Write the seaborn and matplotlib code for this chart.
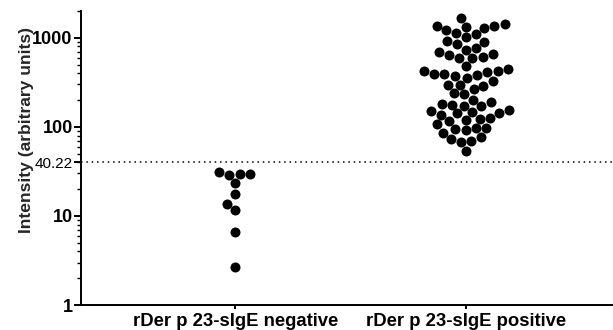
import matplotlib.pyplot as plt
import numpy as np
import pandas as pd
import seaborn as sns
from matplotlib.ticker import LogLocator, NullFormatter

groups = ["rDer p 23-sIgE negative", "rDer p 23-sIgE positive"]
negative = [29.5, 28.8, 23.4, 29.8, 31.1, 17.6, 13.6, 11.6, 6.6, 2.7]
positive = [1353, 1328, 1220, 1101, 1010, 1138, 1275, 1364, 1414, 1676,
            895, 760, 697, 640, 651, 728, 587, 603, 857, 925,
            590, 485, 426, 423, 442, 391, 388, 356, 294, 289,
            296, 329, 372, 386, 412, 235, 200, 188, 238, 266,
            179, 173, 154, 148, 142, 125, 121, 122, 136, 145,
            150, 171, 178, 116, 107, 96, 94, 86, 92, 98,
            76, 70, 68, 73, 54]
cutoff = 40.22
ytick_vals = [1, 10, 100, 1000]

df = pd.DataFrame({
    "group": [groups[0]] * len(negative) + [groups[1]] * len(positive),
    "intensity": negative + positive,
})

sns.set_style("ticks")
plt.rcParams['font.family'] = ['Liberation Sans', 'DejaVu Sans']

fig = plt.figure(figsize=(6.13, 3.30), dpi=100)
ax = fig.add_axes([81 / 613, 25 / 330, 1 - 81 / 613, 294 / 330])
ax.set_yscale("log")
sns.swarmplot(data=df, x="group", y="intensity", order=groups,
              color="black", size=7.2, ax=ax)

ax.axhline(cutoff, color="black", linestyle=(0, (1, 2.5)), linewidth=1.1)
ax.set_ylim(1, 2000)
ax.set_xlim(-0.67, 1.64)

for s in ["top", "right"]:
    ax.spines[s].set_visible(False)
for s in ["left", "bottom"]:
    ax.spines[s].set_linewidth(1.4)
    ax.spines[s].set_color("black")

ax.set_yticks(ytick_vals + [cutoff])
ax.set_yticklabels([str(v) for v in ytick_vals] + ["40.22"])
ax.yaxis.set_minor_locator(LogLocator(base=10, subs=np.arange(2, 10)))
ax.yaxis.set_minor_formatter(NullFormatter())
ax.tick_params(axis="y", which="major", length=5, width=1.4, colors="black", pad=1)
ax.tick_params(axis="y", which="minor", length=3, width=1.0, colors="black")
ax.tick_params(axis="x", length=3, width=1.4, colors="black", pad=3)
for lab in ax.get_yticklabels():
    if lab.get_text() == "40.22":
        lab.set_fontsize(11)
        lab.set_fontweight("normal")
    else:
        lab.set_fontsize(13)
        lab.set_fontweight("bold")
for lab in ax.get_xticklabels():
    lab.set_fontsize(13.3)
    lab.set_fontweight("bold")

ax.set_xlabel("")
ax.set_ylabel("Intensity (arbitrary units)", fontsize=12.6, fontweight="bold")
ax.yaxis.set_label_coords(-0.088, 0.595)

fig.savefig("out.png", dpi=100)
